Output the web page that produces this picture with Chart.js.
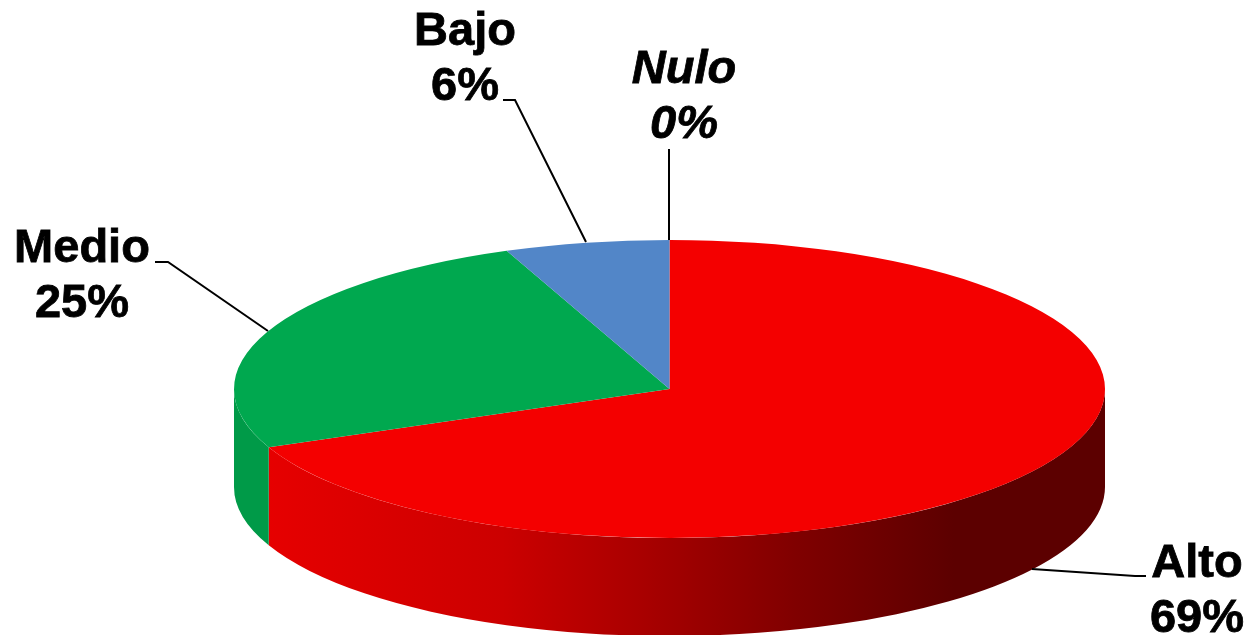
<!DOCTYPE html>
<html lang="es">
<head>
    <meta charset="UTF-8">
    <title>Nivel</title>
    <script src="https://cdn.jsdelivr.net/npm/chart.js"></script>
    <style>
        html, body { margin: 0; padding: 0; background: #FFFFFF; overflow: hidden; }
        #wrap { position: relative; width: 1247px; height: 635px; }
    </style>
</head>
<body>
    <div id="wrap"><canvas id="pie"></canvas></div>

    <script>
        const categories = ['Alto', 'Medio', 'Bajo', 'Nulo'];
        // the labels show them rounded
        const percents = [68.6, 25.3, 6.1, 0];

        const topColors = ['#F40000', '#00A84F', '#5286C8', '#F40000'];
        const wallColors = [null, '#009A48', '#4A78B4', null];

        // ellipse the flat pie gets squashed onto, and the height of the side wall
        const view = { cx: 669.5, cy: 389, rx: 435.5, ry: 149, depth: 98 };

        // label centre + two baselines, then the leader line points
        const labelLayout = {
            Alto:  { x: 1197, y: [577, 632], line: [[1032, 569], [1135, 576], [1146, 576]] },
            Medio: { x: 82,   y: [262, 317], line: [[155, 262], [168, 262], [268, 331]] },
            Bajo:  { x: 465,  y: [45, 100],  line: [[503, 100], [515, 100], [586, 242]] },
            Nulo:  { x: 684,  y: [83, 138],  line: [[669, 149], [669, 240]], italic: true }
        };

        function redWall(ctx) {
            const g = ctx.createLinearGradient(268, 0, 1105, 0);
            g.addColorStop(0, '#E60000');
            g.addColorStop(0.28, '#CC0000');
            g.addColorStop(0.45, '#A80000');
            g.addColorStop(0.63, '#800000');
            g.addColorStop(0.82, '#5C0000');
            g.addColorStop(1, '#5C0000');
            return g;
        }

        const pie3d = {
            id: 'pie3d',
            // side wall, only the front half (0..PI) is visible
            beforeDatasetsDraw(chart) {
                const ctx = chart.ctx;
                const arcs = chart.getDatasetMeta(0).data;
                ctx.save();
                arcs.forEach((arc, i) => {
                    const a0 = Math.max(arc.startAngle, 0);
                    const a1 = Math.min(arc.endAngle, Math.PI);
                    if (a1 <= a0) return;
                    ctx.beginPath();
                    ctx.ellipse(view.cx, view.cy, view.rx, view.ry, 0, a0, a1);
                    ctx.ellipse(view.cx, view.cy + view.depth, view.rx, view.ry, 0, a1, a0, true);
                    ctx.closePath();
                    ctx.fillStyle = wallColors[i] || redWall(ctx);
                    ctx.fill();
                });
                ctx.restore();
            },
            // squash the round pie into the ellipse
            beforeDatasetDraw(chart) {
                const ctx = chart.ctx;
                const arc = chart.getDatasetMeta(0).data[0];
                ctx.save();
                ctx.translate(view.cx, view.cy);
                ctx.scale(view.rx / arc.outerRadius, view.ry / arc.outerRadius);
                ctx.translate(-arc.x, -arc.y);
            },
            afterDatasetDraw(chart) {
                chart.ctx.restore();
            },
            afterDraw(chart) {
                const ctx = chart.ctx;
                ctx.save();
                ctx.strokeStyle = '#000000';
                ctx.lineWidth = 2;
                ctx.fillStyle = '#000000';
                ctx.textAlign = 'center';
                ctx.textBaseline = 'alphabetic';
                categories.forEach((name, i) => {
                    const l = labelLayout[name];
                    ctx.lineWidth = 2;
                    ctx.beginPath();
                    l.line.forEach((p, k) => k ? ctx.lineTo(p[0], p[1]) : ctx.moveTo(p[0], p[1]));
                    ctx.stroke();
                    ctx.font = (l.italic ? 'italic ' : '') + 'bold 47px "Liberation Sans"';
                    // thin outline, the original text is a touch heavier
                    ctx.lineWidth = 0.8;
                    [name, Math.round(percents[i]) + '%'].forEach((txt, k) => {
                        ctx.fillText(txt, l.x, l.y[k]);
                        ctx.strokeText(txt, l.x, l.y[k]);
                    });
                });
                ctx.restore();
            }
        };

        new Chart(document.getElementById('pie'), {
            type: 'pie',
            data: {
                labels: categories,
                datasets: [{
                    data: percents,
                    backgroundColor: topColors,
                    borderWidth: 0,
                    clip: false
                }]
            },
            options: {
                responsive: true,
                maintainAspectRatio: false,
                animation: false,
                layout: { padding: 0 },
                plugins: { legend: { display: false }, tooltip: { enabled: false } }
            },
            plugins: [pie3d]
        });
    </script>
</body>
</html>
